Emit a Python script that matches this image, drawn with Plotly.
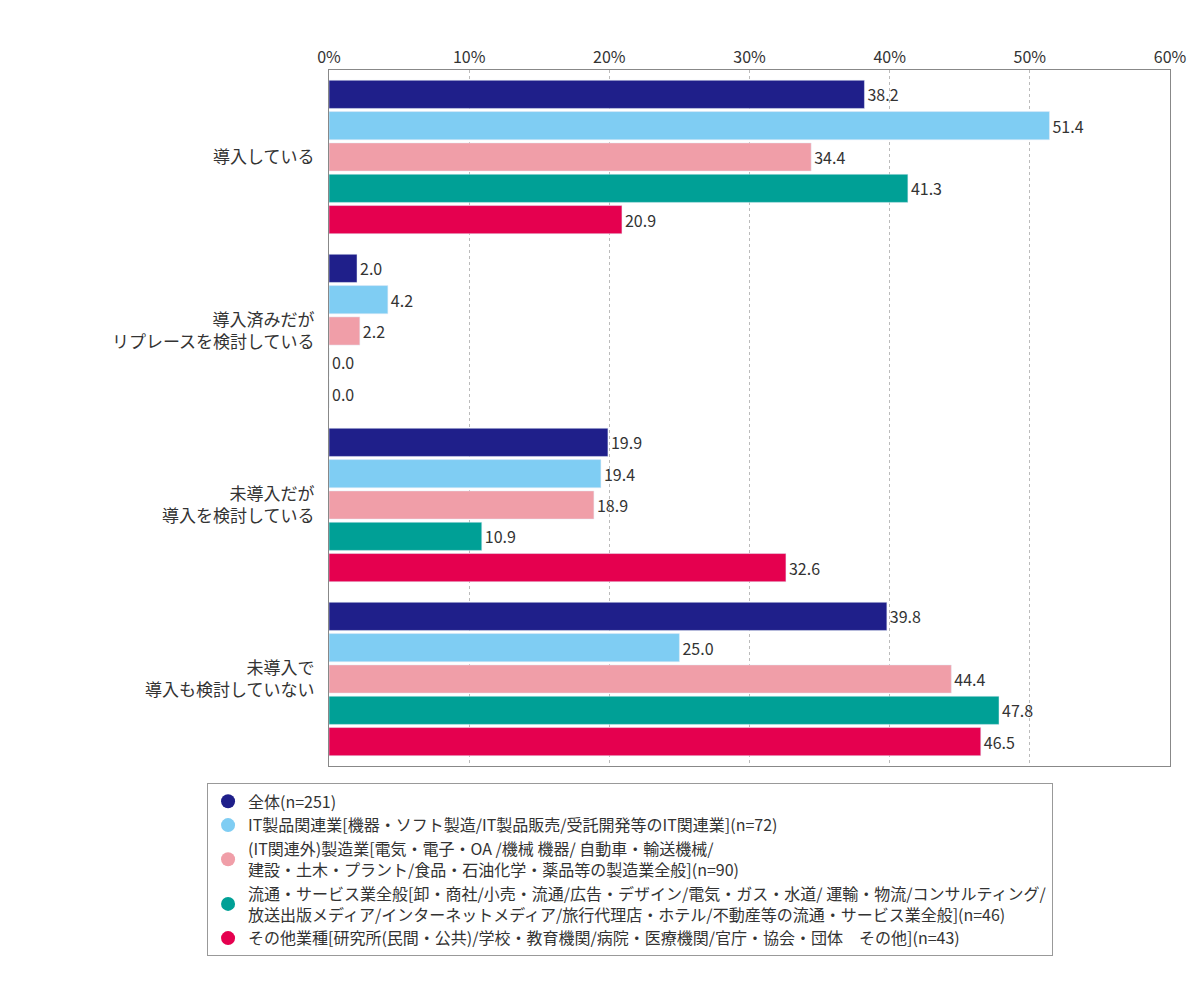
import plotly.graph_objects as go

categories = ["導入している", "導入済みだが<br>リプレースを検討している", "未導入だが<br>導入を検討している", "未導入で<br>導入も検討していない"]
series_names = [
    "全体(n=251)",
    "IT製品関連業[機器・ソフト製造/IT製品販売/受託開発等のIT関連業](n=72)",
    "(IT関連外)製造業[電気・電子・OA /機械 機器/ 自動車・輸送機械/<br>建設・土木・プラント/食品・石油化学・薬品等の製造業全般](n=90)",
    "流通・サービス業全般[卸・商社/小売・流通/広告・デザイン/電気・ガス・水道/ 運輸・物流/コンサルティング/<br>放送出版メディア/インターネットメディア/旅行代理店・ホテル/不動産等の流通・サービス業全般](n=46)",
    "その他業種[研究所(民間・公共)/学校・教育機関/病院・医療機関/官庁・協会・団体　その他](n=43)",
]
values = [
    [38.2, 2.0, 19.9, 39.8],
    [51.4, 4.2, 19.4, 25.0],
    [34.4, 2.2, 18.9, 44.4],
    [41.3, 0.0, 10.9, 47.8],
    [20.9, 0.0, 32.6, 46.5],
]
colors = ["#1f1f8a", "#7fcdf3", "#f09ea8", "#00a096", "#e5004f"]

fig = go.Figure()
for name, vals, c in zip(series_names, values, colors):
    fig.add_trace(go.Bar(y=categories, x=vals, orientation="h", marker_color=c,
                         text=[f"{v:.1f}" for v in vals], textposition="outside",
                         textfont=dict(size=16, color="#333"), cliponaxis=False,
                         showlegend=False))
for name, c in zip(series_names, colors):
    fig.add_trace(go.Scatter(x=[None], y=[None], mode="markers", name=name,
                             marker=dict(symbol="circle", size=14, color=c)))

fig.update_layout(
    width=1200, height=1000, barmode="group", bargap=0.1, bargroupgap=0.1,
    paper_bgcolor="white", plot_bgcolor="white",
    margin=dict(l=321, r=38, t=62, b=242, autoexpand=False),
    font=dict(family="Noto Sans CJK JP", size=16, color="#333"),
    xaxis=dict(range=[0, 60], dtick=10, ticksuffix="%", side="top",
               showgrid=True, gridcolor="#bbb", griddash="dot", automargin=False,
               showline=True, linecolor="#888", mirror=True, zeroline=False,
               tickfont=dict(size=16)),
    yaxis=dict(autorange="reversed", showline=True, linecolor="#888", mirror=True,
               tickfont=dict(size=17), ticks="", ticklabelstandoff=10, automargin=False),
    legend=dict(x=-0.145, y=-0.025, xanchor="left", yanchor="top",
                bordercolor="#999", borderwidth=1, font=dict(size=16),
                tracegroupgap=6, itemwidth=30),
)
fig.write_html("out.html")
